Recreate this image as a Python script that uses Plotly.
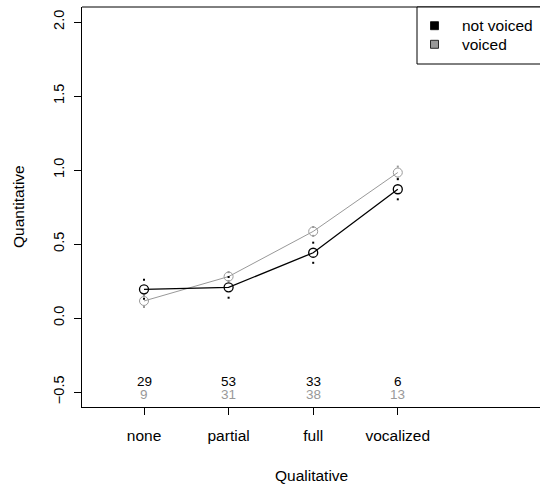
import plotly.graph_objects as go

categories = ["none", "partial", "full", "vocalized"]
groups = ["not voiced", "voiced"]
mean_not_voiced = [0.194, 0.207, 0.441, 0.870]
se_not_voiced = [0.064, 0.070, 0.068, 0.068]
mean_voiced = [0.115, 0.280, 0.585, 0.983]
se_voiced = [0.040, 0.030, 0.030, 0.040]
n_not_voiced = [29, 53, 33, 6]
n_voiced = [9, 31, 38, 13]
y_ticks = [-0.5, 0.0, 0.5, 1.0, 1.5, 2.0]

BLACK = "#000000"
GREY = "#999999"
FONT = "Liberation Sans, Arial, Helvetica, sans-serif"

xpos = list(range(1, len(categories) + 1))

# plot area in pixels
L, R, T, B = 82, 540, 7, 407
W, H = 540, 487


def px(xp):
    return (xp - L) / (R - L)


def py(yp):
    return (B - yp) / (B - T)


fig = go.Figure()

series = [
    (mean_voiced, se_voiced, GREY, 1.0),
    (mean_not_voiced, se_not_voiced, BLACK, 1.3),
]
for means, ses, col, lw in series:
    lo = [m - s for m, s in zip(means, ses)]
    hi = [m + s for m, s in zip(means, ses)]
    fig.add_trace(go.Scatter(
        x=xpos + xpos, y=lo + hi, mode="markers",
        marker=dict(symbol="square", size=2, color=col, line=dict(width=0)),
        showlegend=False, hoverinfo="skip"))
    fig.add_trace(go.Scatter(
        x=xpos, y=means, mode="lines+markers",
        line=dict(color=col, width=lw),
        marker=dict(symbol="circle-open", size=9, color=col, line=dict(width=lw)),
        showlegend=False))

annotations = []
for i, x in enumerate(xpos):
    annotations.append(dict(x=x, y=-0.426, xref="x", yref="y", text=str(n_not_voiced[i]),
                            showarrow=False, font=dict(size=13.5, color=BLACK, family=FONT)))
    annotations.append(dict(x=x, y=-0.516, xref="x", yref="y", text=str(n_voiced[i]),
                            showarrow=False, font=dict(size=13.5, color=GREY, family=FONT)))

# axis titles
annotations.append(dict(x=0.5, y=py(475), xref="paper", yref="paper", text="Qualitative",
                        showarrow=False, xanchor="center", yanchor="middle",
                        font=dict(size=15.5, color=BLACK, family=FONT)))
annotations.append(dict(x=px(18), y=0.5, xref="paper", yref="paper", text="Quantitative",
                        showarrow=False, xanchor="center", yanchor="middle", textangle=-90,
                        font=dict(size=15.5, color=BLACK, family=FONT)))

shapes = [
    dict(type="line", xref="paper", yref="paper", x0=0, x1=1.01, y0=1, y1=1,
         line=dict(color=BLACK, width=1)),
    dict(type="rect", xref="paper", yref="paper", x0=px(417), x1=px(560), y0=py(64), y1=py(7),
         line=dict(color=BLACK, width=1), fillcolor="white"),
]
legend_colors = [BLACK, GREY]
legend_y = [25.7, 44.3]
for g, c, ly in zip(groups, legend_colors, legend_y):
    shapes.append(dict(type="rect", xref="paper", yref="paper",
                       x0=px(430.5), x1=px(438.5), y0=py(ly + 4), y1=py(ly - 4),
                       line=dict(color=BLACK, width=0.8), fillcolor=c))
    annotations.append(dict(x=px(460), y=py(ly), xref="paper", yref="paper", text=g,
                            showarrow=False, xanchor="left", yanchor="middle",
                            font=dict(size=15.5, color=BLACK, family=FONT)))

fig.update_layout(
    width=W, height=H,
    margin=dict(l=L, r=W - R, t=T, b=H - B, pad=0),
    paper_bgcolor="white", plot_bgcolor="white",
    font=dict(family=FONT, color=BLACK),
    showlegend=False,
    annotations=annotations,
    shapes=shapes,
    xaxis=dict(
        range=[1 + (L - 144) / 84.6, 1 + (R - 144) / 84.6],
        tickmode="array", tickvals=xpos, ticktext=categories,
        ticks="outside", ticklen=7, tickwidth=1, tickcolor=BLACK,
        ticklabelstandoff=7,
        showline=True, linecolor=BLACK, linewidth=1,
        showgrid=False, zeroline=False,
        tickfont=dict(size=15.5, family=FONT, color=BLACK),
    ),
    yaxis=dict(
        range=[-0.5 - 15 / 148, 2.0 + 15 / 148],
        tickmode="array", tickvals=y_ticks, ticktext=[f"{v:.1f}".replace("-", "\u2212") for v in y_ticks],
        ticks="outside", ticklen=7, tickwidth=1, tickcolor=BLACK,
        tickangle=-90, ticklabelstandoff=4,
        showline=True, linecolor=BLACK, linewidth=1,
        showgrid=False, zeroline=False,
        tickfont=dict(size=14.5, family=FONT, color=BLACK),
    ),
)

fig.write_html(
    "out.html",
    config={"displayModeBar": False},
    post_script="document.body.style.margin='0';document.body.style.padding='0';",
)
